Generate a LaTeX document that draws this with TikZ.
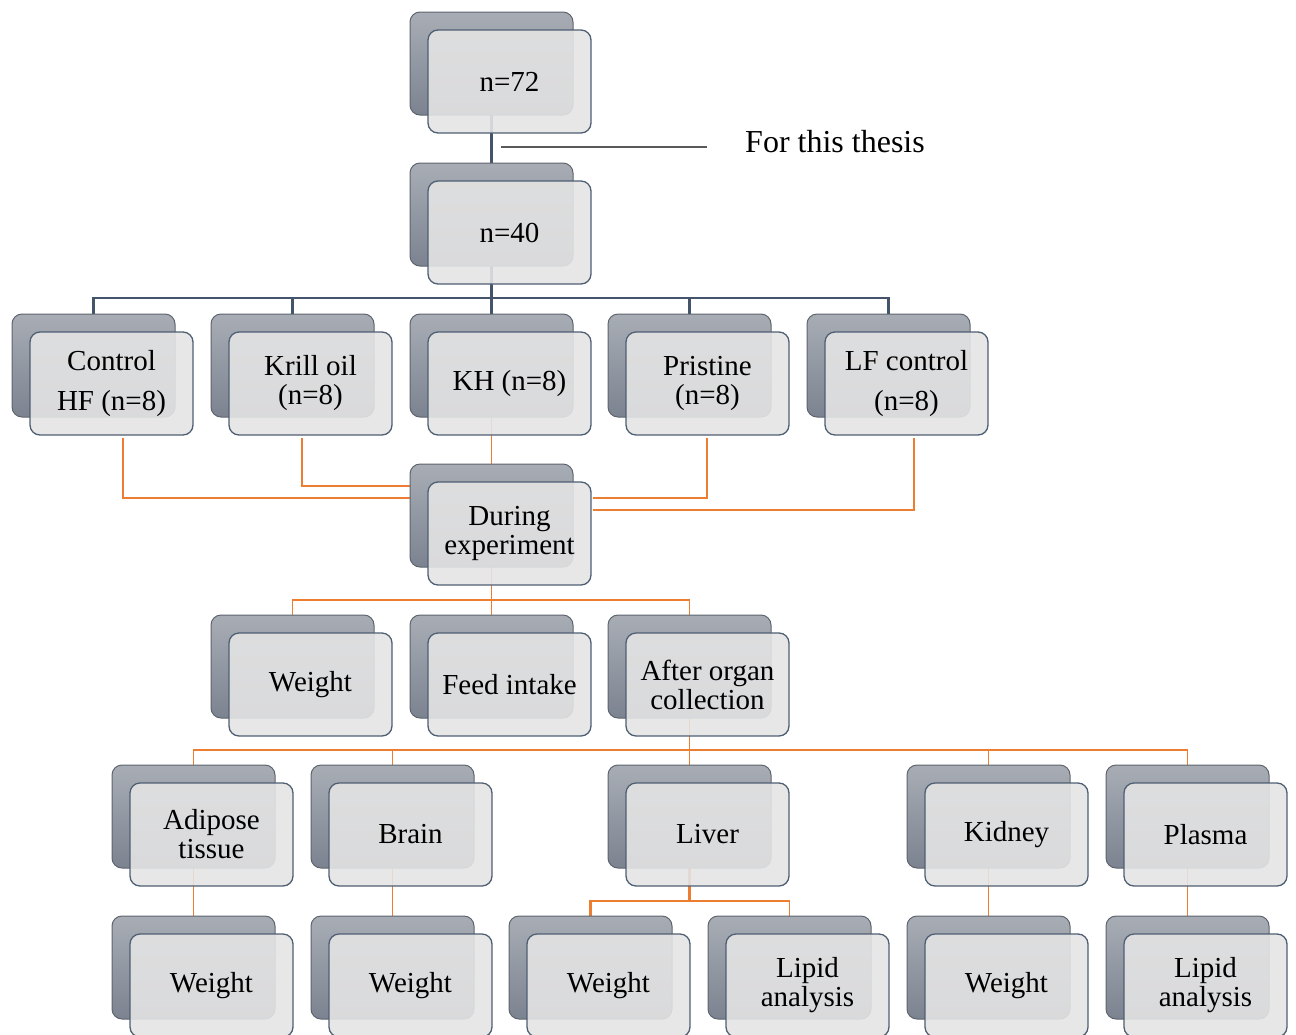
\documentclass[tikz,border=0pt]{standalone}
\usepackage{fontspec}
\setmainfont{Liberation Serif}
\pgfdeclarelayer{bg}
\pgfsetlayers{bg,main}
\definecolor{backtop}{HTML}{A8ADB5}
\definecolor{backbot}{HTML}{7C8390}
\definecolor{backline}{HTML}{5E646D}
\definecolor{frontfill}{HTML}{E4E4E4}
\definecolor{frontline}{HTML}{4F5F73}
\definecolor{dkline}{HTML}{44546A}
\definecolor{orline}{HTML}{ED7D31}
\definecolor{grline}{HTML}{595959}
\tikzset{
  backbox/.style={rectangle, rounded corners=10pt, minimum width=163pt, minimum height=103pt,
    inner sep=0pt, outer sep=0pt, top color=backtop, bottom color=backbot, draw=backline, line width=1pt},
  frontbox/.style={rectangle, rounded corners=10pt, minimum width=163pt, minimum height=103pt,
    inner sep=0pt, outer sep=0pt, fill=frontfill, fill opacity=0.9, text opacity=1,
    draw=frontline, draw opacity=1, line width=1.3pt, align=center,
    font=\fontsize{29}{29}\selectfont},
  dk/.style={draw=dkline, line width=2.8pt},
  orthick/.style={draw=orline, line width=2.9pt},
  orthin/.style={draw=orline, line width=1.3pt},
}
\newcommand\mybox[4]{%
  \node[backbox, anchor=north west] (b#1) at (#2,#3) {};
  \node[frontbox, anchor=north west] (f#1) at ({#2+18},{#3+18}) {#4};
}
\begin{document}
\begin{tikzpicture}[x=1pt,y=-1pt]
\useasboundingbox (0,0) rectangle (1296,1034);
% row 1-2
\mybox{A}{410}{12}{n=72}
\mybox{B}{410}{163}{n=40}
% row 3
\mybox{C}{12}{314}{Control\\[11pt]HF (n=8)}
\mybox{KO}{211}{314}{Krill oil\\(n=8)}
\mybox{KH}{410}{314}{KH (n=8)}
\mybox{Pr}{608}{314}{Pristine\\(n=8)}
\mybox{LF}{807}{314}{LF control\\[11pt](n=8)}
% row 4
\mybox{D}{410}{464}{During\\experiment}
% row 5
\mybox{Wt}{211}{615}{Weight}
\mybox{FI}{410}{615}{Feed intake}
\mybox{AO}{608}{615}{After organ\\collection}
% row 6
\mybox{Ad}{112}{765}{Adipose\\tissue}
\mybox{Br}{311}{765}{Brain}
\mybox{Li}{608}{765}{Liver}
\mybox{Ki}{907}{765}{Kidney}
\mybox{Pl}{1106}{765}{Plasma}
% row 7
\mybox{Wa}{112}{916}{Weight}
\mybox{Wb}{311}{916}{Weight}
\mybox{Wc}{509}{916}{Weight}
\mybox{La}{708}{916}{Lipid\\analysis}
\mybox{Wd}{907}{916}{Weight}
\mybox{Lb}{1106}{916}{Lipid\\analysis}
% thesis label
\coordinate (t1) at (501,147);
\coordinate (t2) at (707,147);
\node[font=\fontsize{32}{32}\selectfont, anchor=center] (thesis) at (835,142) {For this thesis};
% free coordinates for orange connectors
\coordinate (cC) at (123,438);
\coordinate (eC) at (410,498);
\coordinate (cKO) at (302,438);
\coordinate (eKO) at (410,486);
\coordinate (cPr) at (707,438);
\coordinate (ePr) at (593,498);
\coordinate (cLF) at (914,438);
\coordinate (eLF) at (593,510);
\path (bLi.south) ++(0,33) coordinate (lj);
\begin{pgfonlayer}{bg}
  \draw[dk] (bA.south) -- (bB.north);
  \draw[grline, line width=1.5pt] (t1) -- (t2);
  \draw[dk] (bB.south) -- (bKH.north);
  \draw[dk] (bC.north) -- ++(0,-16) -| (bLF.north);
  \draw[dk] (bKO.north) -- ++(0,-16);
  \draw[dk] (bPr.north) -- ++(0,-16);
  % to During
  \draw[orthick] (cC) |- (eC);
  \draw[orthick] (cKO) |- (eKO);
  \draw[orthick] (cPr) |- (ePr);
  \draw[orthick] (cLF) |- (eLF);
  \draw[orthin] (bKH.south) -- (bD.north);
  % During to row 5
  \draw[orthin] (bD.south) -- (bFI.north);
  \draw[orthin] (bWt.north) -- ++(0,-15) -| (bAO.north);
  % After organ to row 6
  \draw[orthin] (bAO.south) -- (bLi.north);
  \draw[orthin] (bAd.north) -- ++(0,-15) -| (bPl.north);
  \draw[orthin] (bBr.north) -- ++(0,-15);
  \draw[orthin] (bKi.north) -- ++(0,-15);
  % row 6 to row 7
  \draw[orthin] (bAd.south) -- (bWa.north);
  \draw[orthin] (bBr.south) -- (bWb.north);
  \draw[orthin] (bLa.north) |- (lj);
  \draw[orthick] (bLi.south) -- (lj) -| (bWc.north);
  \draw[orthin] (bKi.south) -- (bWd.north);
  \draw[orthin] (bPl.south) -- (bLb.north);
\end{pgfonlayer}
\end{tikzpicture}
\end{document}
